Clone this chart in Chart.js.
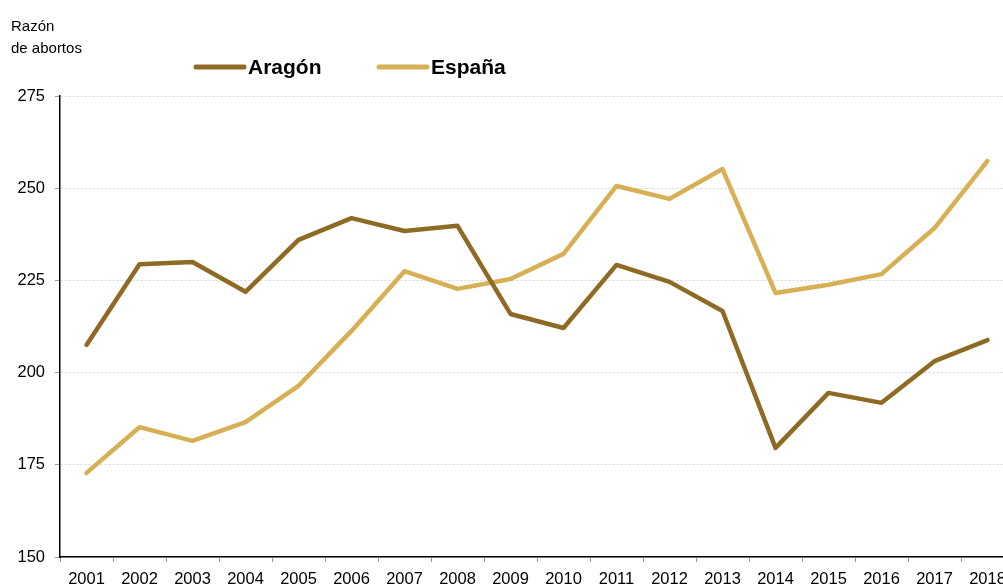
<!DOCTYPE html>
<html>
<head>
<meta charset="utf-8">
<script src="https://cdn.jsdelivr.net/npm/chart.js@4"></script>
<style>
  html, body { margin: 0; padding: 0; background: #fff; overflow: hidden; }
  #wrap { width: 1003px; height: 587px; overflow: hidden; }
  #box { width: 1016px; height: 587px; }
</style>
</head>
<body>
<div id="wrap"><div id="box"><canvas id="chart"></canvas></div></div>
<script>
// years on the x axis
const years = ['2001','2002','2003','2004','2005','2006','2007','2008','2009',
  '2010','2011','2012','2013','2014','2015','2016','2017','2018'];

// razón de abortos
const aragon = [207.5, 229.4, 230.0, 221.9, 236.0, 241.9, 238.4, 239.8, 215.9,
  212.1, 229.2, 224.6, 216.7, 179.6, 194.5, 191.8, 203.1, 208.8];
const espana = [172.8, 185.2, 181.5, 186.6, 196.4, 211.3, 227.5, 222.7, 225.4,
  232.2, 250.6, 247.1, 255.2, 221.6, 223.8, 226.7, 239.2, 257.4];

const yTicks = [150, 175, 200, 225, 250, 275];

// title + legend drawn by hand, legend sits left of centre like the original
const extras = {
  id: 'extras',
  afterDraw(chart) {
    const ctx = chart.ctx;
    ctx.save();
    ctx.fillStyle = '#000';
    ctx.font = '15px Arial, "Liberation Sans", sans-serif';
    ctx.textBaseline = 'alphabetic';
    ctx.textAlign = 'left';
    ctx.fillText('Razón', 11, 31);
    ctx.fillText('de abortos', 11, 53);

    const legendX = [196, 379];
    ctx.textBaseline = 'middle';
    chart.data.datasets.forEach((ds, i) => {
      const x = legendX[i];
      ctx.strokeStyle = ds.borderColor;
      ctx.lineWidth = 5;
      ctx.lineCap = 'round';
      ctx.beginPath();
      ctx.moveTo(x, 67);
      ctx.lineTo(x + 48, 67);
      ctx.stroke();
      ctx.fillStyle = '#000';
      ctx.font = 'bold 21px Arial, "Liberation Sans", sans-serif';
      ctx.fillText(ds.label, x + 52, 68);
    });
    ctx.restore();
  }
};

new Chart(document.getElementById('chart'), {
  type: 'line',
  data: {
    labels: years,
    datasets: [
      { label: 'Aragón', data: aragon, borderColor: '#8e6a25', borderWidth: 4.5,
        pointRadius: 0, tension: 0, borderCapStyle: 'round', borderJoinStyle: 'round' },
      { label: 'España', data: espana, borderColor: '#d7b056', borderWidth: 4.5,
        pointRadius: 0, tension: 0, borderCapStyle: 'round', borderJoinStyle: 'round' }
    ]
  },
  options: {
    responsive: true,
    maintainAspectRatio: false,
    animation: false,
    layout: { padding: { top: 96, right: 2, left: 0, bottom: 0 } },
    plugins: { legend: { display: false }, tooltip: { enabled: false } },
    scales: {
      x: {
        offset: true,
        grid: { offset: true, drawOnChartArea: false, tickLength: 5, color: '#999' },
        border: { color: '#000', width: 1.5 },
        ticks: { color: '#000', font: { size: 16.5, family: 'Arial' }, padding: 8, maxRotation: 0, autoSkip: false },
        afterFit(s) { s.height = 30; }
      },
      y: {
        min: 150,
        max: 275,
        afterBuildTicks(s) { s.ticks = yTicks.map(v => ({ value: v })); },
        grid: { color: '#d4d4d4', tickLength: 5, tickColor: '#999' },
        border: { color: '#000', width: 1.5, dash: [2, 2] },
        ticks: { color: '#000', font: { size: 16.5, family: 'Arial' }, padding: 10 },
        afterFit(s) { s.width = 60; }
      }
    }
  },
  plugins: [extras]
});
</script>
</body>
</html>
